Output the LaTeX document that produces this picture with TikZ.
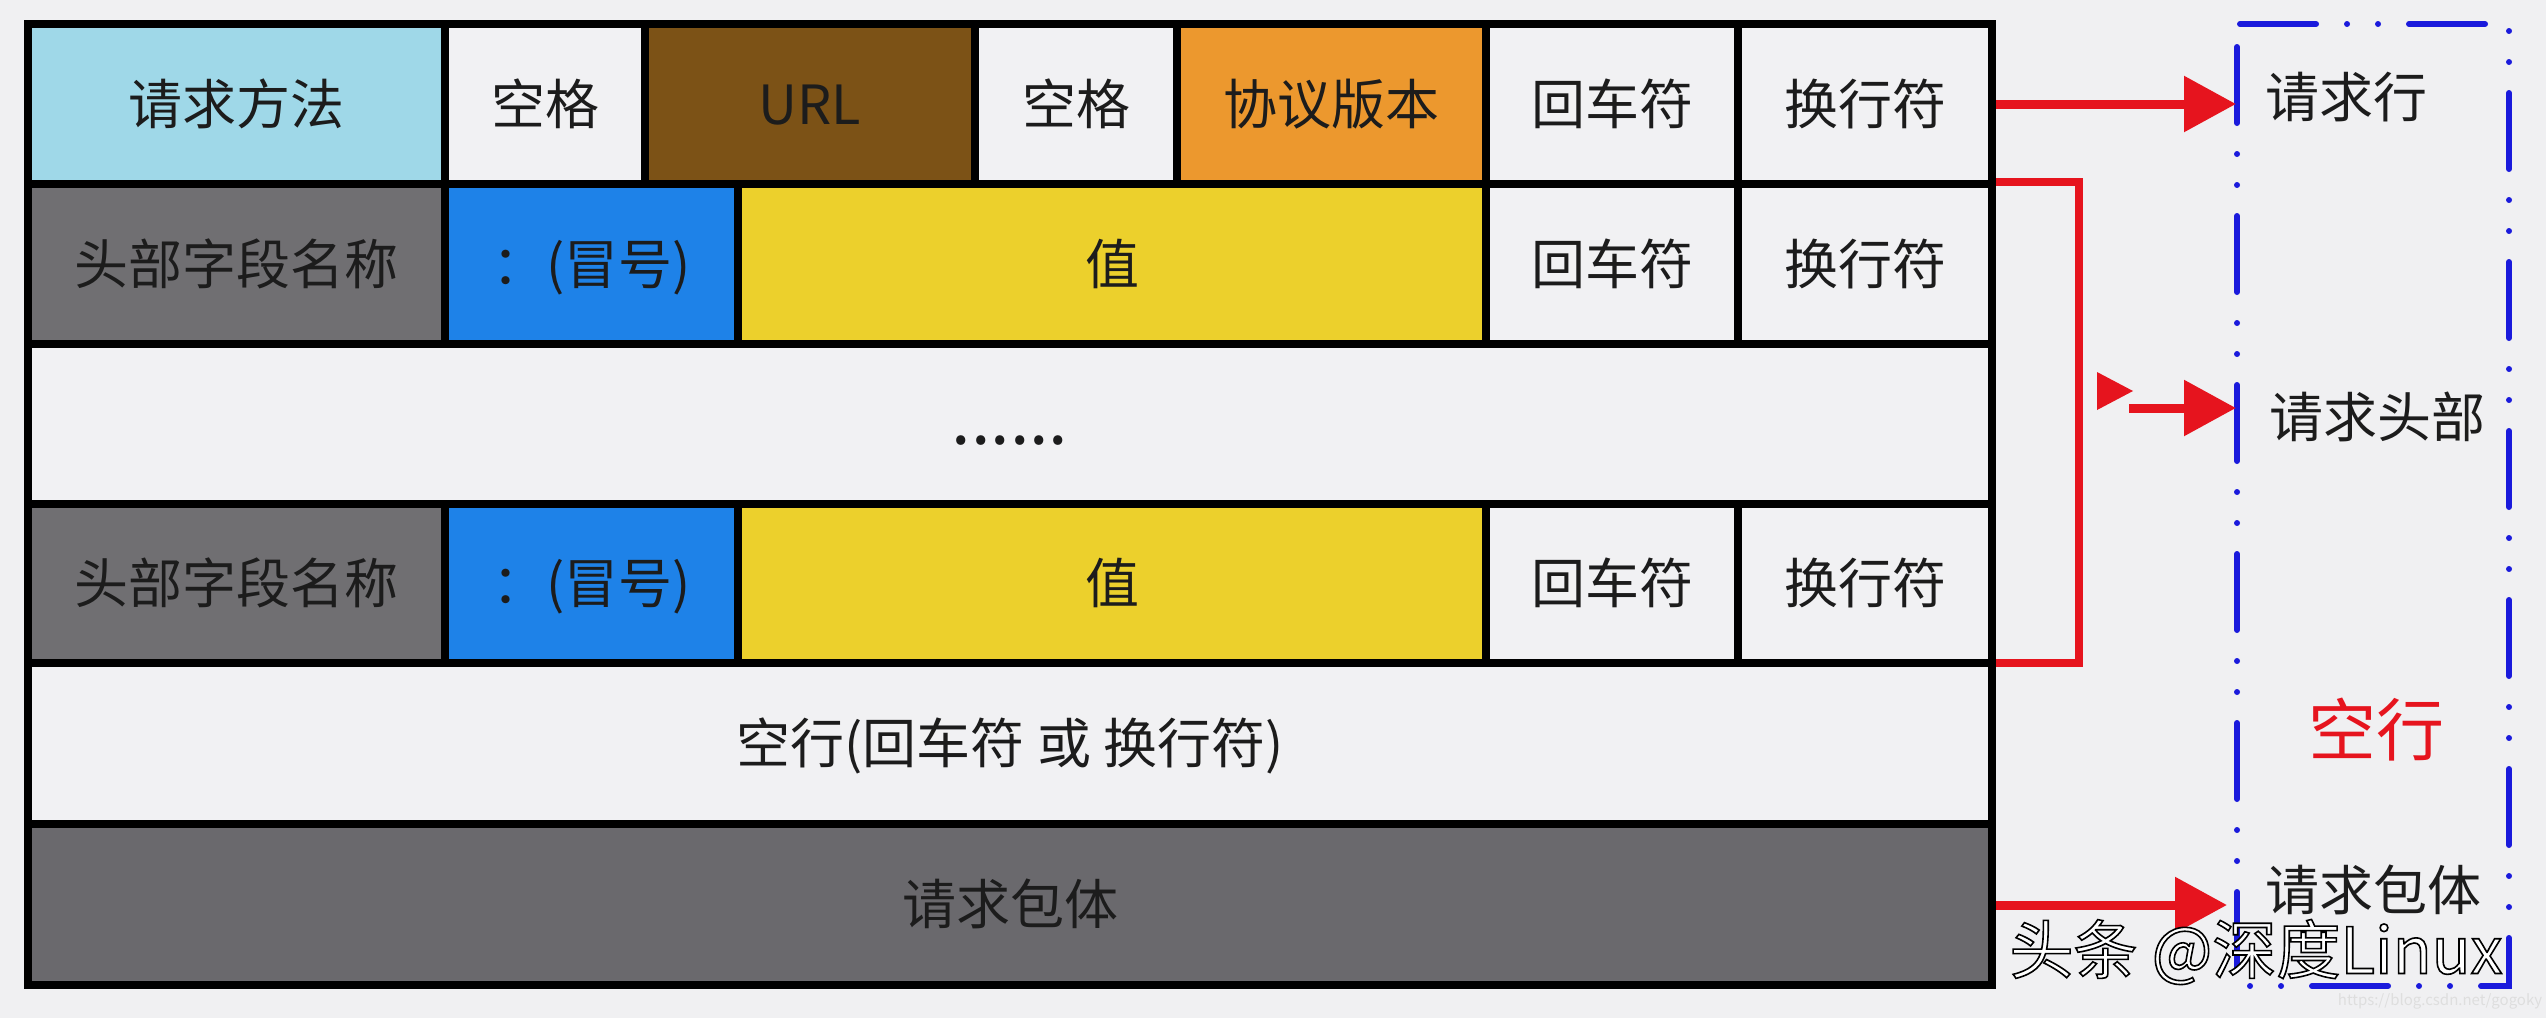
\documentclass[tikz,border=0pt]{standalone}
\usepackage{fontspec}
\setmainfont{Noto Sans CJK SC}
\newfontfamily\wmfont[FakeBold=2.5]{Noto Sans CJK SC}
\usetikzlibrary{arrows.meta}
\definecolor{bg}{HTML}{F0F0F2}
\definecolor{cellw}{HTML}{F1F1F3}
\definecolor{lblue}{HTML}{9FD8E8}
\definecolor{urlbrown}{HTML}{7C5216}
\definecolor{orng}{HTML}{EC982E}
\definecolor{hgray}{HTML}{706F72}
\definecolor{cblue}{HTML}{1E82E8}
\definecolor{vyellow}{HTML}{ECD02C}
\definecolor{bgray}{HTML}{6A696D}
\definecolor{ared}{HTML}{E6141E}
\definecolor{bblue}{HTML}{1A1ADC}
\definecolor{txt}{HTML}{1C1C1C}
\begin{document}
\begin{tikzpicture}[x=1pt,y=-1pt,
  cell/.style={draw=black, line width=8pt, inner sep=0pt, text=txt,
    text height=43pt, text depth=3pt, font=\fontsize{54}{60}\selectfont},
  lbl/.style={inner sep=0pt, text=txt, text height=43pt, text depth=3pt,
    font=\fontsize{54}{60}\selectfont},
  redarrow/.style={draw=ared, line width=9pt, -{Triangle[length=52pt,width=54pt]}},
  bracketline/.style={draw=ared, line width=8pt},
  bluebox/.style={draw=bblue, line width=6pt, line cap=round,
    dash pattern=on 76pt off 31pt on 0pt off 31pt on 0pt off 31pt, dash phase=166pt}
]
\useasboundingbox (0,0) rectangle (2546,1018);
\fill[bg] (0,0) rectangle (2546,1018);

% Row 1: request line
\node[cell, fill=lblue,    minimum width=417pt, minimum height=160pt] (m)   at (236.5,104) {请求方法};
\node[cell, fill=cellw,    minimum width=200pt, minimum height=160pt] (sp1) at (545,104)   {空格};
\node[cell, fill=urlbrown, minimum width=330pt, minimum height=160pt] (url) at (810,104)   {URL};
\node[cell, fill=cellw,    minimum width=202pt, minimum height=160pt] (sp2) at (1076,104)  {空格};
\node[cell, fill=orng,     minimum width=309pt, minimum height=160pt] (ver) at (1331.5,104){协议版本};
\node[cell, fill=cellw,    minimum width=252pt, minimum height=160pt] (cr1) at (1612,104)  {回车符};
\node[cell, fill=cellw,    minimum width=254pt, minimum height=160pt] (lf1) at (1865,104)  {换行符};

% Row 2: header line
\node[cell, fill=hgray,   minimum width=417pt, minimum height=160pt] (hn1) at (236.5,264) {头部字段名称};
\node[cell, fill=cblue,   minimum width=293pt, minimum height=160pt] (co1) at (591.5,264) {：(冒号)};
\node[cell, fill=vyellow, minimum width=748pt, minimum height=160pt] (va1) at (1112,264)  {值};
\node[cell, fill=cellw,   minimum width=252pt, minimum height=160pt] (cr2) at (1612,264)  {回车符};
\node[cell, fill=cellw,   minimum width=254pt, minimum height=160pt] (lf2) at (1865,264)  {换行符};

% Row 3: ellipsis
\node[cell, fill=cellw, minimum width=1964pt, minimum height=160pt] (dots) at (1010,424) {\fontsize{70}{80}\selectfont ......};

% Row 4: header line
\node[cell, fill=hgray,   minimum width=417pt, minimum height=159pt] (hn2) at (236.5,583.5) {头部字段名称};
\node[cell, fill=cblue,   minimum width=293pt, minimum height=159pt] (co2) at (591.5,583.5) {：(冒号)};
\node[cell, fill=vyellow, minimum width=748pt, minimum height=159pt] (va2) at (1112,583.5)  {值};
\node[cell, fill=cellw,   minimum width=252pt, minimum height=159pt] (cr3) at (1612,583.5)  {回车符};
\node[cell, fill=cellw,   minimum width=254pt, minimum height=159pt] (lf3) at (1865,583.5)  {换行符};

% Row 5: blank line
\node[cell, fill=cellw, minimum width=1964pt, minimum height=161pt] (blank) at (1010,743.5) {空行(回车符 或 换行符)};
% Row 6: body
\node[cell, fill=bgray, minimum width=1964pt, minimum height=161pt] (body) at (1010,904.5) {请求包体};

% Blue dash-dot box
\draw[bluebox] (2237,24) -- (2509,24) -- (2509,986) -- (2237,986) -- cycle;

% Labels in the box
\node[lbl, anchor=west] (lrl) at (2265,97)  {请求行};
\node[lbl, anchor=west] (lhd) at (2269,417) {请求头部};
\node[lbl, anchor=center, text=ared, text height=54pt, text depth=4pt, font=\fontsize{68}{76}\selectfont] (lem) at (2376,730) {空行};
\node[lbl, anchor=west] (lbd) at (2265,890) {请求包体};

% Arrow targets on the box edge
\coordinate (t1) at (2236,104);
\coordinate (s2) at (2129,408);
\coordinate (t2) at (2236,408);
\coordinate (t3) at (2227,905);
\coordinate (bx) at (2079,420);
\coordinate (btop) at (1996,182);
\coordinate (bbot) at (1996,663);

% Red arrows and bracket
\draw[redarrow] (lf1.east) -- (t1);
\draw[bracketline] (btop) -| (bx) |- (bbot);
\fill[ared] (2097,372) -- (2133,391) -- (2097,410) -- cycle;
\draw[redarrow] (s2) -- (t2);
\draw[redarrow] (body.east |- t3) -- (t3);

% Watermarks (white text, black outline)
\node[inner sep=0pt, text=white, font=\wmfont\fontsize{64}{70}\selectfont] (wm) at (2256,952)
  {\special{pdf:literal direct 0 0 0 RG}头条 @深度Linux};
\node[inner sep=0pt, text=black!13, font=\fontsize{15}{18}\selectfont] (csdn) at (2440,1001) {https://blog.csdn.net/gogoky};
\end{tikzpicture}
\end{document}
